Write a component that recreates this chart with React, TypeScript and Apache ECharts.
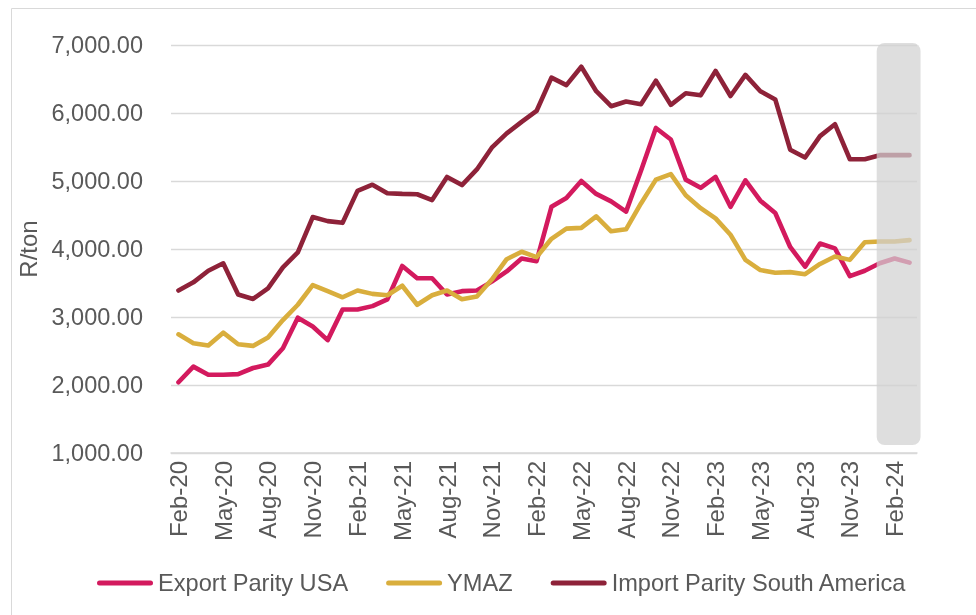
import React, { useEffect, useRef } from "react";
import * as echarts from "echarts";

const categories = [
  "Feb-20", "Mar-20", "Apr-20", "May-20", "Jun-20", "Jul-20", "Aug-20", "Sep-20", "Oct-20", "Nov-20", "Dec-20",
  "Jan-21", "Feb-21", "Mar-21", "Apr-21", "May-21", "Jun-21", "Jul-21", "Aug-21", "Sep-21", "Oct-21", "Nov-21", "Dec-21",
  "Jan-22", "Feb-22", "Mar-22", "Apr-22", "May-22", "Jun-22", "Jul-22", "Aug-22", "Sep-22", "Oct-22", "Nov-22", "Dec-22",
  "Jan-23", "Feb-23", "Mar-23", "Apr-23", "May-23", "Jun-23", "Jul-23", "Aug-23", "Sep-23", "Oct-23", "Nov-23", "Dec-23",
  "Jan-24", "Feb-24", "Mar-24",
];

const exportParityUSA = [
  2040, 2270, 2150, 2150, 2160, 2250, 2300, 2540, 2990, 2860, 2660,
  3110, 3110, 3160, 3260, 3750, 3570, 3570, 3330, 3380, 3390, 3520, 3670,
  3860, 3820, 4620, 4750, 5000, 4810, 4700, 4550, 5150, 5780, 5610, 5020,
  4900, 5060, 4620, 5010, 4710, 4530, 4030, 3740, 4080, 4010, 3600, 3680,
  3790, 3860, 3800,
];

const ymaz = [
  2745, 2615, 2580, 2770, 2600, 2575, 2700, 2955, 3180, 3470, 3380,
  3290, 3390, 3340, 3320, 3460, 3180, 3320, 3390, 3260, 3300, 3550, 3850,
  3960, 3880, 4150, 4300, 4310, 4480, 4260, 4290, 4670, 5020, 5100, 4790,
  4600, 4450, 4210, 3840, 3690, 3650, 3660, 3630, 3780, 3890, 3840, 4100,
  4110, 4110, 4130,
];

const importParitySouthAmerica = [
  3390, 3510, 3680, 3790, 3330, 3265, 3420, 3730, 3950, 4470, 4410,
  4385, 4855, 4945, 4820, 4810, 4805, 4720, 5060, 4940, 5170, 5490, 5700,
  5870, 6030, 6520, 6410, 6680, 6320, 6100, 6170, 6130, 6475, 6120, 6290,
  6260, 6620, 6250, 6560, 6320, 6200, 5460, 5345, 5660, 5835, 5320, 5320,
  5380, 5380, 5380,
];

const seriesNames = ["Export Parity USA", "YMAZ", "Import Parity South America"];
const seriesColors = ["#D31A5E", "#D9AE3D", "#8E2239"];
const forecastStart = "Jan-24";
const forecastEnd = "Mar-24";
const yMin = 1000;
const yMax = 7000;

const FONT = "'Liberation Sans', Arial, sans-serif";
const TEXT = "#595959";
const GRID = "#d9d9d9";
const LEGEND_ICON = "path://M2.5,0 L53.5,0 A2.5,2.5 0 0 1 53.5,5 L2.5,5 A2.5,2.5 0 0 1 2.5,0 Z";

export default function App() {
  const ref = useRef<HTMLDivElement>(null);

  useEffect(() => {
    const chart = echarts.init(ref.current!, null, { renderer: "svg" });
    const dataSets = [exportParityUSA, ymaz, importParitySouthAmerica];
    chart.setOption({
      animation: false,
      textStyle: { fontFamily: FONT },
      grid: { left: 171, right: 59, top: 45, bottom: 162, containLabel: false },
      legend: {
        left: 97,
        top: 571,
        padding: 0,
        itemWidth: 56,
        itemHeight: 5,
        itemGap: 38,
        icon: LEGEND_ICON,
        textStyle: { color: TEXT, fontSize: 23.6, fontFamily: FONT },
        data: seriesNames,
      },
      xAxis: {
        type: "category",
        data: categories,
        boundaryGap: true,
        axisLine: { lineStyle: { color: GRID, width: 1.5 } },
        axisTick: { interval: 2, length: 5, lineStyle: { color: GRID, width: 1.5 } },
        axisLabel: {
          interval: 2,
          rotate: 90,
          color: TEXT,
          fontSize: 24,
          margin: 8,
          fontFamily: FONT,
        },
      },
      yAxis: {
        type: "value",
        min: yMin,
        max: yMax,
        interval: 1000,
        name: "R/ton",
        nameLocation: "middle",
        nameGap: 121,
        nameRotate: 90,
        nameTextStyle: { color: TEXT, fontSize: 24, fontFamily: FONT },
        axisLine: { show: false },
        axisTick: { show: false },
        axisLabel: {
          color: TEXT,
          fontSize: 23.5,
          margin: 28,
          fontFamily: FONT,
          formatter: (v: number) =>
            v.toLocaleString("en-US", { minimumFractionDigits: 2, maximumFractionDigits: 2 }),
        },
        splitLine: { lineStyle: { color: GRID, width: 1.3 } },
      },
      series: seriesNames.map((name, i) => ({
        name,
        type: "line",
        data: dataSets[i],
        symbol: "none",
        color: seriesColors[i],
        itemStyle: { color: seriesColors[i] },
        lineStyle: { color: seriesColors[i], width: 4.6, cap: "round", join: "round" },
        z: 2,
      })),
    });

    const xs = chart.convertToPixel({ xAxisIndex: 0 }, forecastStart) as number;
    const xe = chart.convertToPixel({ xAxisIndex: 0 }, forecastEnd) as number;
    const yt = chart.convertToPixel({ yAxisIndex: 0 }, yMax) as number;
    const yb = chart.convertToPixel({ yAxisIndex: 0 }, yMin) as number;
    const left = xs - 3;
    const right = xe + 11;

    chart.setOption({
      graphic: [
        {
          type: "rect",
          silent: true,
          z: 100,
          shape: { x: left, y: yt - 2, width: right - left, height: yb - 8 - (yt - 2), r: 8 },
          style: { fill: "rgba(209,209,209,0.72)" },
        },
        {
          type: "rect",
          silent: true,
          z: 100,
          shape: { x: 11.5, y: 8.5, width: 990, height: 630 },
          style: { fill: "none", stroke: GRID, lineWidth: 1 },
        },
      ],
    });

    return () => chart.dispose();
  }, []);

  return (
    <div
      ref={ref}
      style={{ position: "fixed", left: 0, top: 0, width: 976, height: 615 }}
    />
  );
}
